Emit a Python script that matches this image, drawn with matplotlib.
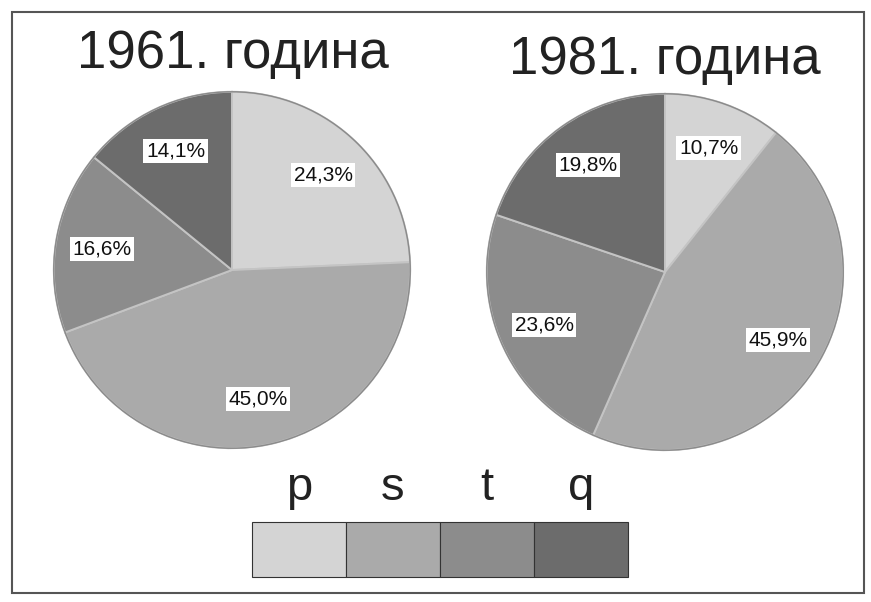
import matplotlib
matplotlib.use("Agg")
import numpy as np
import matplotlib.pyplot as plt
from matplotlib.patches import Rectangle

plt.rcParams['font.family'] = ['Liberation Sans', 'DejaVu Sans']

# shares per year, clockwise from 12 o'clock
categories = ["p", "s", "t", "q"]
years = ["1961. година", "1981. година"]
shares_1961 = [24.3, 45.0, 16.6, 14.1]
shares_1981 = [10.7, 45.9, 23.6, 19.8]
colors = ["#d4d4d4", "#aaaaaa", "#8c8c8c", "#6c6c6c"]

W, H = 871, 602
fig = plt.figure(figsize=(W / 100, H / 100), dpi=100)


def px_axes(x0, y0, x1, y1):
    # axes from pixel box (top-left origin)
    return fig.add_axes([x0 / W, 1 - y1 / H, (x1 - x0) / W, (y1 - y0) / H])


def draw_pie(ax, values):
    wedges, _ = ax.pie(values, colors=colors, startangle=90, counterclock=False,
                       radius=1.0,
                       wedgeprops=dict(edgecolor="#c4c4c4", linewidth=1.4))
    # thin dark rim around the whole pie
    ax.add_patch(plt.Circle((0, 0), 1.0, fill=False, edgecolor="#8a8a8a",
                            linewidth=1.0))
    for w, v in zip(wedges, values):
        ang = np.deg2rad((w.theta1 + w.theta2) / 2)
        ax.text(0.74 * np.cos(ang), 0.74 * np.sin(ang),
                f"{v:.1f}%".replace(".", ","), ha="center", va="center",
                fontsize=15, color="#111111",
                bbox=dict(boxstyle="square,pad=0.12", fc="white", ec="none"))
    ax.set_xlim(-1.01, 1.01)
    ax.set_ylim(-1.01, 1.01)
    ax.set_aspect("equal")
    ax.axis("off")


ax1 = px_axes(52, 90, 412, 450)
draw_pie(ax1, shares_1961)
ax2 = px_axes(485, 92, 845, 452)
draw_pie(ax2, shares_1981)

fig.text(233 / W, 1 - 68 / H, years[0], ha="center", va="baseline",
         fontsize=38, color="#222222")
fig.text(665 / W, 1 - 74 / H, years[1], ha="center", va="baseline",
         fontsize=38, color="#222222")

# legend strip
axl = px_axes(252, 522, 628, 577)
bars = axl.bar(range(len(categories)), [1] * len(categories), width=1.0,
               color=colors, edgecolor="#333333", linewidth=0.8)
for b in bars:
    b.set_clip_on(False)
axl.set_xlim(-0.5, len(categories) - 0.5)
axl.set_ylim(0, 1)
axl.set_xticks(range(len(categories)))
axl.set_xticklabels(categories, fontsize=34, color="#222222")
axl.tick_params(axis="x", bottom=False, labelbottom=False, top=False,
                labeltop=True, pad=5)
axl.set_yticks([])
for s in axl.spines.values():
    s.set_visible(False)

# outer frame
fig.add_artist(Rectangle((12 / W, 1 - 593 / H), 852 / W, 581 / H,
                         transform=fig.transFigure, fill=False,
                         edgecolor="#555555", linewidth=1.5))

fig.savefig("out.png", dpi=100)
